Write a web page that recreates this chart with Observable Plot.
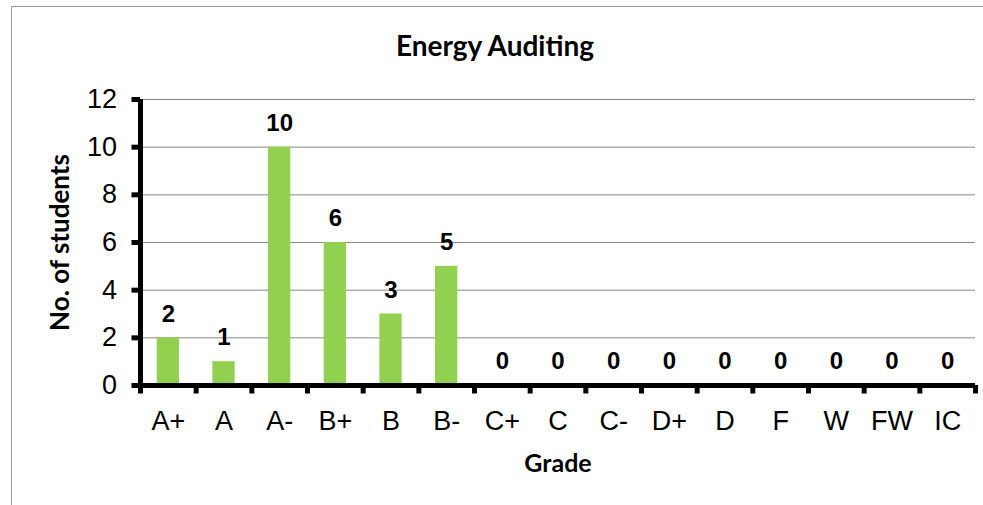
<!DOCTYPE html>
<html>
<head>
<meta charset="utf-8">
<script src="https://cdn.jsdelivr.net/npm/d3@7"></script>
<script src="https://cdn.jsdelivr.net/npm/@observablehq/plot@0.6"></script>
<style>
  html, body { margin: 0; padding: 0; background: #fff; }
  #wrap { position: relative; width: 983px; height: 505px; overflow: hidden; }
  #frame { position: absolute; left: 11px; top: 6px; width: 1000px; height: 600px; border: 1px solid #9a9a9a; pointer-events: none; }
</style>
</head>
<body>
<div id="wrap"><div id="frame"></div></div>
<script>
const grades = ["A+", "A", "A-", "B+", "B", "B-", "C+", "C", "C-", "D+", "D", "F", "W", "FW", "IC"];
const counts = [2, 1, 10, 6, 3, 5, 0, 0, 0, 0, 0, 0, 0, 0, 0];
const yTicks = [0, 2, 4, 6, 8, 10, 12];
const chartTitle = "Energy Auditing";
const xTitle = "Grade";
const yTitle = "No. of students";

const data = grades.map((g, i) => ({grade: g, i, count: counts[i]}));
const boundaries = d3.range(grades.length + 1);
const centers = grades.map((g, i) => i + 0.5);

const titleFont = "Lato, 'Open Sans', sans-serif";

const chart = Plot.plot({
  width: 983,
  height: 505,
  marginLeft: 140,
  marginRight: 8,
  marginTop: 99,
  marginBottom: 120,
  style: {background: "transparent", fontFamily: "'Liberation Sans', Arial, sans-serif", color: "#000"},
  x: {type: "linear", domain: [0, grades.length], axis: null, label: null},
  y: {domain: [0, 12], axis: null, label: null},
  marks: [
    Plot.gridY(yTicks, {stroke: "#868686", strokeOpacity: 1, strokeWidth: 1}),
    Plot.rectY(data, {x1: d => d.i + 0.3, x2: d => d.i + 0.7, y1: 0, y2: "count", fill: "#92D050"}),
    Plot.axisY(yTicks, {label: null, tickSize: 8.5, strokeWidth: 5, tickPadding: 15, fontSize: 27, tickFormat: d => String(d)}),
    Plot.axisX(boundaries, {label: null, tickSize: 8.5, strokeWidth: 5, tickFormat: () => ""}),
    Plot.axisX(centers, {label: null, tickSize: 0, tickPadding: 25.5, fontSize: 27, tickFormat: d => grades[Math.round(d - 0.5)]}),
    Plot.ruleX([0], {strokeWidth: 5, stroke: "#000"}),
    Plot.ruleY([0], {strokeWidth: 5, stroke: "#000"}),
    Plot.text(data, {x: d => d.i + 0.5, y: "count", text: d => String(d.count), dy: -24, fontWeight: "bold", fontSize: 24, lineAnchor: "middle"}),
    Plot.text([chartTitle], {frameAnchor: "top", lineAnchor: "middle", textAnchor: "middle", dx: -63, dy: -52, fontSize: 28, fontWeight: "bold", fontFamily: titleFont}),
    Plot.text([yTitle], {frameAnchor: "left", lineAnchor: "middle", textAnchor: "middle", rotate: -90, dx: -80, fontSize: 26, fontWeight: "bold", fontFamily: titleFont}),
    Plot.text([xTitle], {frameAnchor: "bottom", lineAnchor: "middle", textAnchor: "middle", dy: 78, fontSize: 25, fontWeight: "bold", fontFamily: titleFont})
  ]
});
chart.style.position = "absolute";
chart.style.left = "0px";
chart.style.top = "0px";
document.getElementById("wrap").prepend(chart);
</script>
</body>
</html>
